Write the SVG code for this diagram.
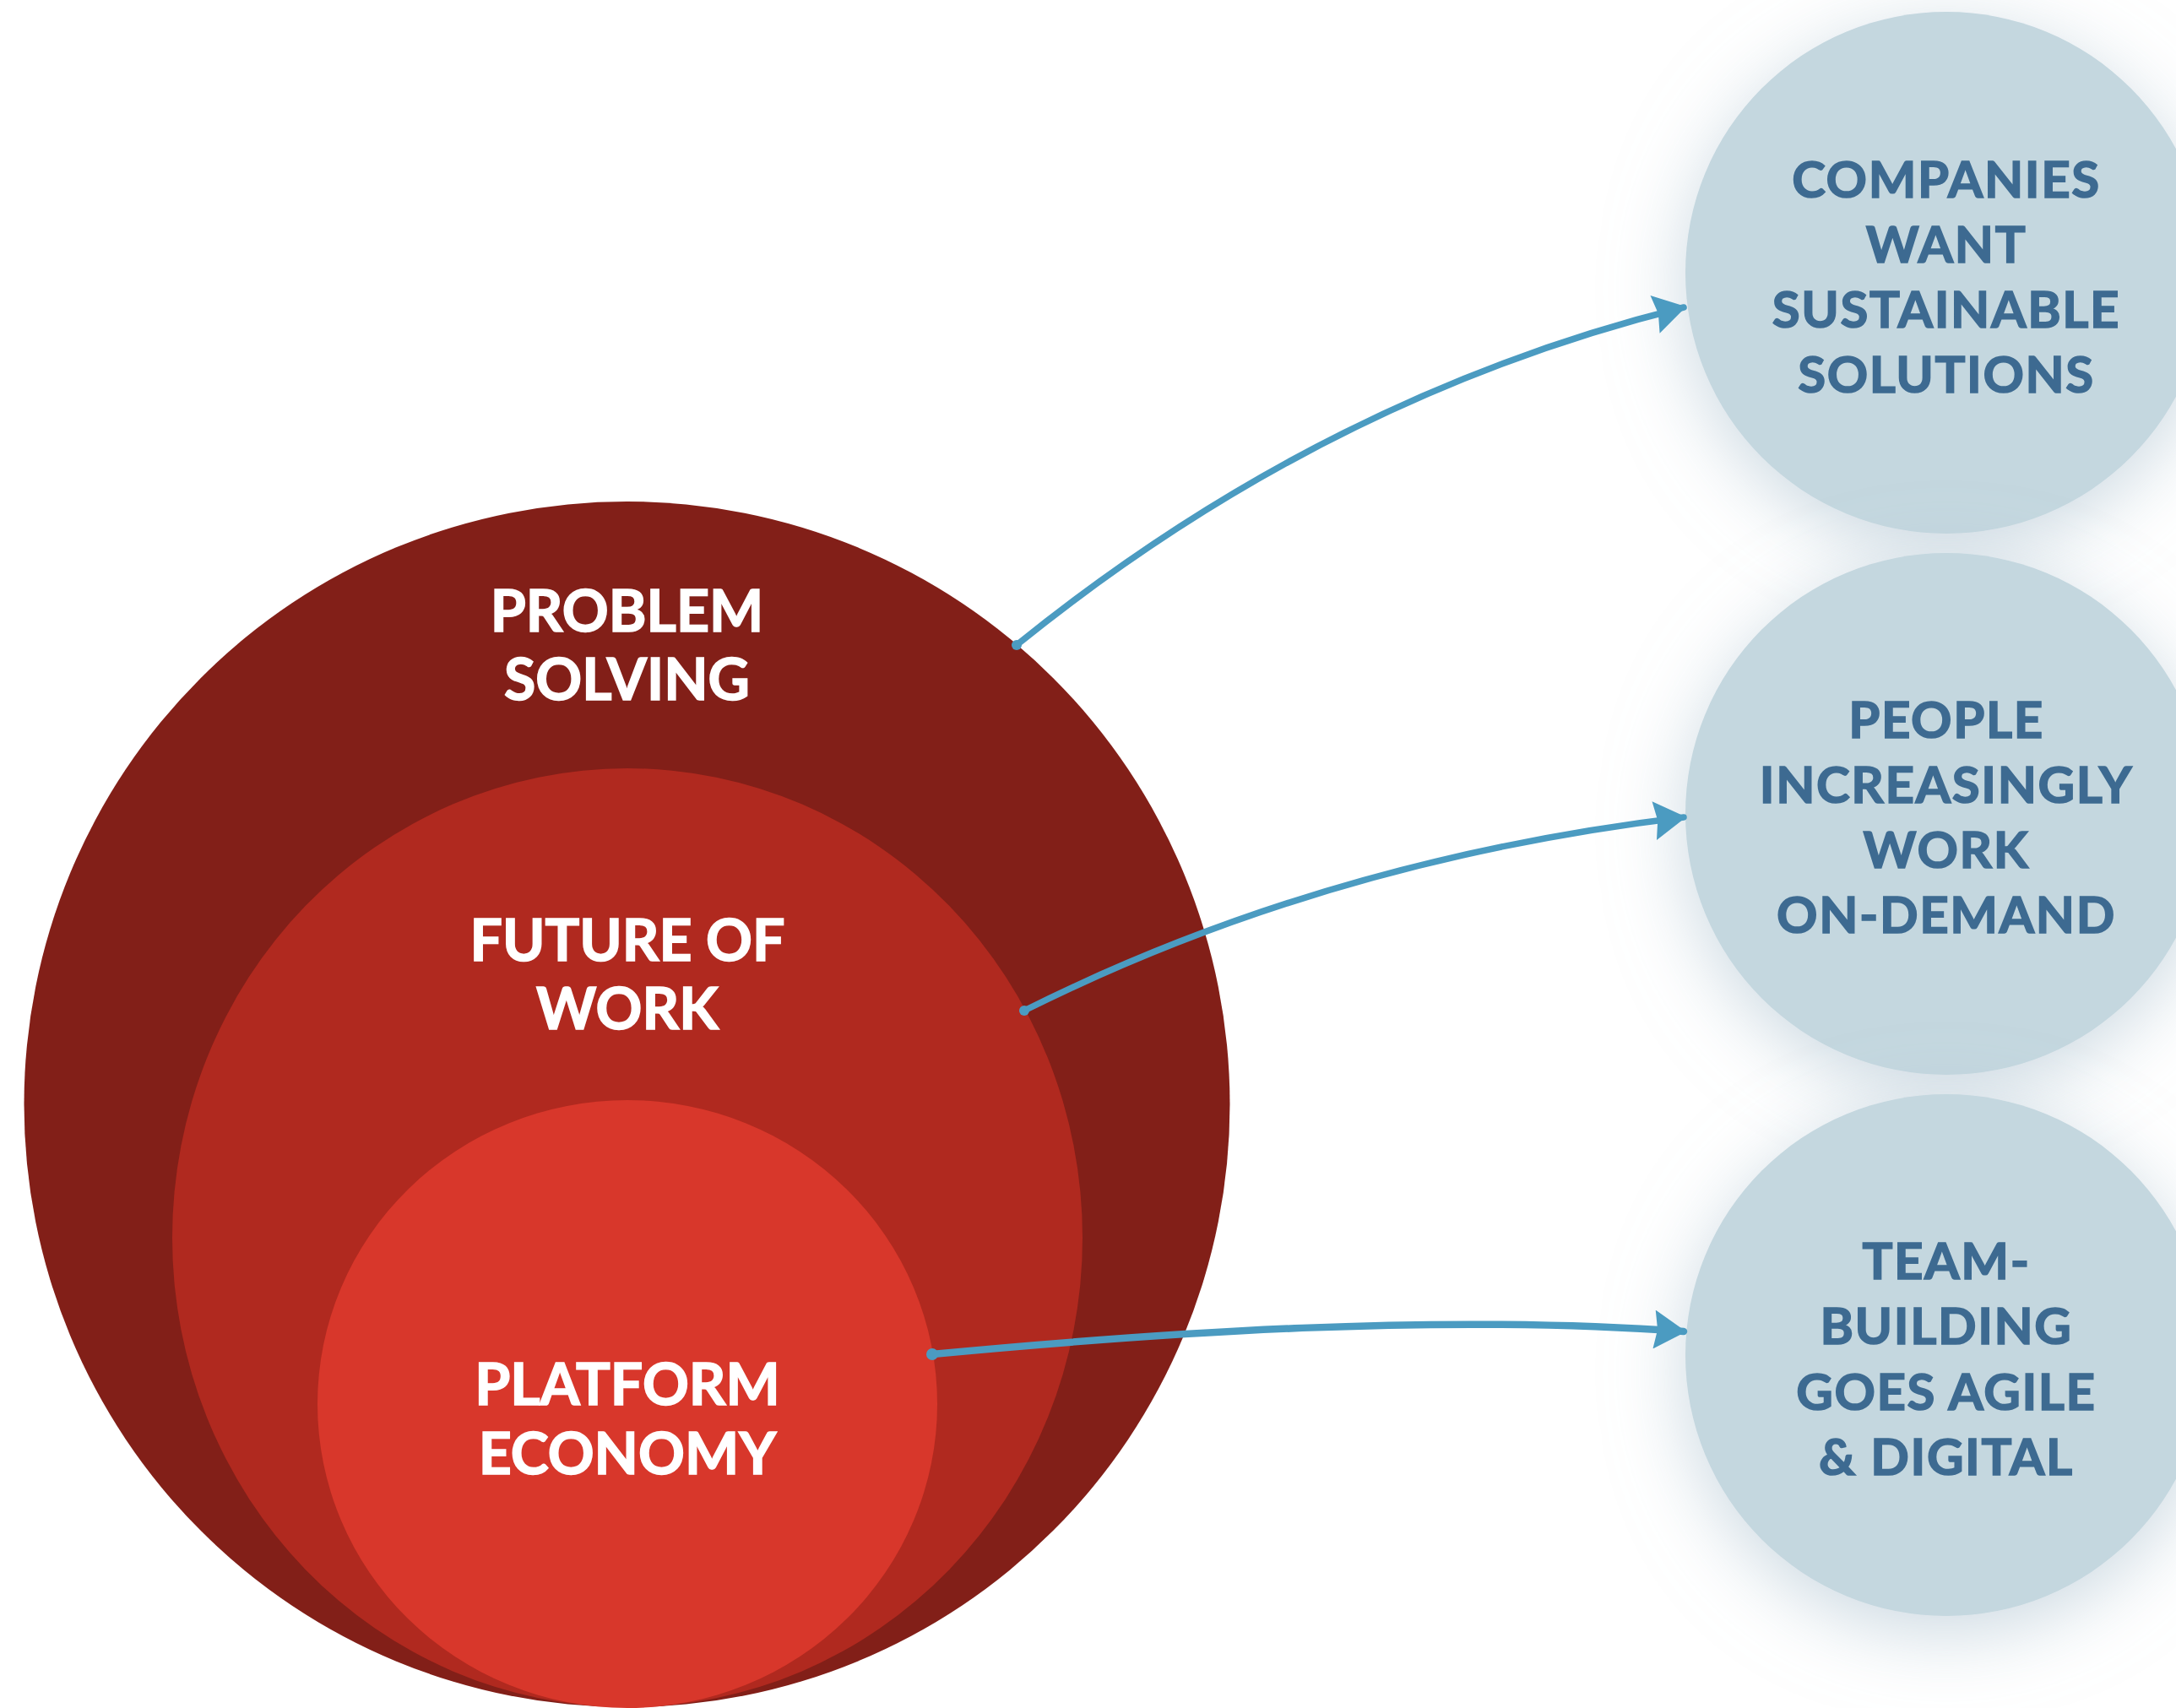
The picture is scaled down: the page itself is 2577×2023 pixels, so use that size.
<svg xmlns="http://www.w3.org/2000/svg" width="2577" height="2023" viewBox="0 0 2577 2023">
  <defs>
    <style>
      .red-label { font-family: Lato, "Liberation Sans", sans-serif; font-weight: 700; font-size: 68px; fill: #ffffff; stroke: #ffffff; stroke-width: 1.6px; text-anchor: middle; }
      .blue-label { font-family: Lato, "Liberation Sans", sans-serif; font-weight: 700; font-size: 60px; fill: #3e6b91; stroke: #3e6b91; stroke-width: 1.6px; text-anchor: middle; letter-spacing: 1.6px; }
      .bubble { fill: #c4d7df; }
      .conn { fill: none; stroke: #4b9bc1; stroke-width: 7.5; stroke-linecap: round; }
    </style>
    <filter id="glow" x="-50%" y="-50%" width="200%" height="200%">
      <feGaussianBlur in="SourceAlpha" stdDeviation="45" result="b"/>
      <feOffset in="b" dy="20" result="o"/>
      <feFlood flood-color="#a9bfce" flood-opacity="0.6"/>
      <feComposite in2="o" operator="in" result="s"/>
      <feMerge>
        <feMergeNode in="s"/>
        <feMergeNode in="SourceGraphic"/>
      </feMerge>
    </filter>
    <marker id="arrow" markerUnits="userSpaceOnUse" markerWidth="40" markerHeight="46" viewBox="0 0 40 46" refX="36" refY="23" orient="auto">
      <path d="M1,0 L39,23 L1,46 L5,23 Z" fill="#4b9bc1"/>
    </marker>
  </defs>

  <rect x="0" y="0" width="2577" height="2023" fill="#ffffff"/>

  <g id="node-problem-solving">
    <circle cx="742.5" cy="1308" r="714" fill="#821f18"/>
    <text class="red-label" x="742.5" y="748">PROBLEM</text>
    <text class="red-label" x="742.5" y="829">SOLVING</text>
  </g>

  <g id="node-future-of-work">
    <ellipse cx="743" cy="1466" rx="539" ry="556" fill="#b0291f"/>
    <text class="red-label" x="743" y="1138">FUTURE OF</text>
    <text class="red-label" x="743" y="1219">WORK</text>
  </g>

  <g id="node-platform-economy">
    <ellipse cx="743" cy="1663" rx="367" ry="360" fill="#d8372b"/>
    <text class="red-label" x="743" y="1664">PLATFORM</text>
    <text class="red-label" x="743" y="1746">ECONOMY</text>
  </g>

  <g id="node-companies" filter="url(#glow)">
    <circle class="bubble" cx="2305" cy="323" r="309"/>
    <text class="blue-label" x="2305" y="234">COMPANIES</text>
    <text class="blue-label" x="2305" y="311">WANT</text>
    <text class="blue-label" x="2305" y="388">SUSTAINABLE</text>
    <text class="blue-label" x="2305" y="465">SOLUTIONS</text>
  </g>

  <g id="node-people" filter="url(#glow)">
    <circle class="bubble" cx="2305" cy="964" r="309"/>
    <text class="blue-label" x="2305" y="874">PEOPLE</text>
    <text class="blue-label" x="2305" y="951">INCREASINGLY</text>
    <text class="blue-label" x="2305" y="1028">WORK</text>
    <text class="blue-label" x="2305" y="1105">ON-DEMAND</text>
  </g>

  <g id="node-team-building" filter="url(#glow)">
    <circle class="bubble" cx="2305" cy="1605" r="309"/>
    <text class="blue-label" x="2305" y="1515">TEAM-</text>
    <text class="blue-label" x="2305" y="1592">BUILDING</text>
    <text class="blue-label" x="2305" y="1670">GOES AGILE</text>
    <text class="blue-label" x="2305" y="1747">&amp; DIGITAL</text>
  </g>

  <g id="connectors">
    <circle cx="1204" cy="764" r="6" fill="#4b9bc1"/>
    <path class="conn" d="M1204,764 Q1567,470 1994,364" marker-end="url(#arrow)"/>
    <circle cx="1213" cy="1197" r="6" fill="#4b9bc1"/>
    <path class="conn" d="M1213,1197 Q1569,1019 1994,968" marker-end="url(#arrow)"/>
    <circle cx="1104" cy="1604" r="7" fill="#4b9bc1"/>
    <path class="conn" style="stroke-width:8.5" d="M1104,1604 C1380,1578 1700,1556 1994,1577" marker-end="url(#arrow)"/>
  </g>
</svg>
